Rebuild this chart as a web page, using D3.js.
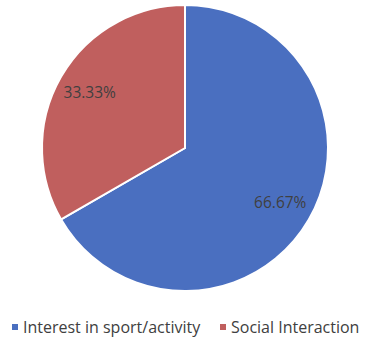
<!DOCTYPE html>
<html>
<head>
<meta charset="utf-8">
<script src="https://cdn.jsdelivr.net/npm/d3@7"></script>
<style>
  html, body { margin: 0; padding: 0; background: #fff; overflow: hidden; }
  text { font-family: "Open Sans", "Liberation Sans", sans-serif; }
</style>
</head>
<body>
<svg id="chart" width="366" height="339"></svg>
<script>
var categories = ["Interest in sport/activity", "Social Interaction"];
var values = [66.67, 33.33];
var labels = ["66.67%", "33.33%"];
var colors = ["#4A6FC0", "#C05F5E"];

var svg = d3.select("#chart");
var cx = 185, cy = 148, radius = 143;

var g = svg.append("g")
	.attr("transform", "translate(" + cx + "," + cy + ")");

var pie = d3.pie().sort(null);
var arc = d3.arc().innerRadius(0).outerRadius(radius);
var labelArc = d3.arc().innerRadius(110).outerRadius(110);

var slices = g.selectAll(".arc")
	.data(pie(values))
	.enter().append("g")
		.attr("class", "arc");

slices.append("path")
	.attr("d", arc)
	.attr("fill", function(d, i){ return colors[i]; })
	.attr("stroke", "#fff")
	.attr("stroke-width", 2);

slices.append("text")
	.attr("transform", function(d){ return "translate(" + labelArc.centroid(d) + ")"; })
	.attr("dy", "0.35em")
	.attr("text-anchor", "middle")
	.style("font-size", "15.5px")
	.attr("fill", "#404040")
	.text(function(d, i){ return labels[i]; });

// legend - second item pulled in a bit so the whole text fits
var legendX = [12, 220];
var legend = svg.append("g")
	.selectAll("g")
	.data(categories)
	.enter().append("g")
		.attr("transform", function(d, i){ return "translate(" + legendX[i] + ",323)"; });

legend.append("rect")
	.attr("width", 6)
	.attr("height", 6)
	.attr("y", 1)
	.attr("fill", function(d, i){ return colors[i]; });

legend.append("text")
	.attr("x", 11)
	.attr("y", 4)
	.attr("dy", "0.35em")
	.style("font-size", "16px")
	.attr("fill", "#404040")
	.text(function(d){ return d; });
</script>
</body>
</html>
